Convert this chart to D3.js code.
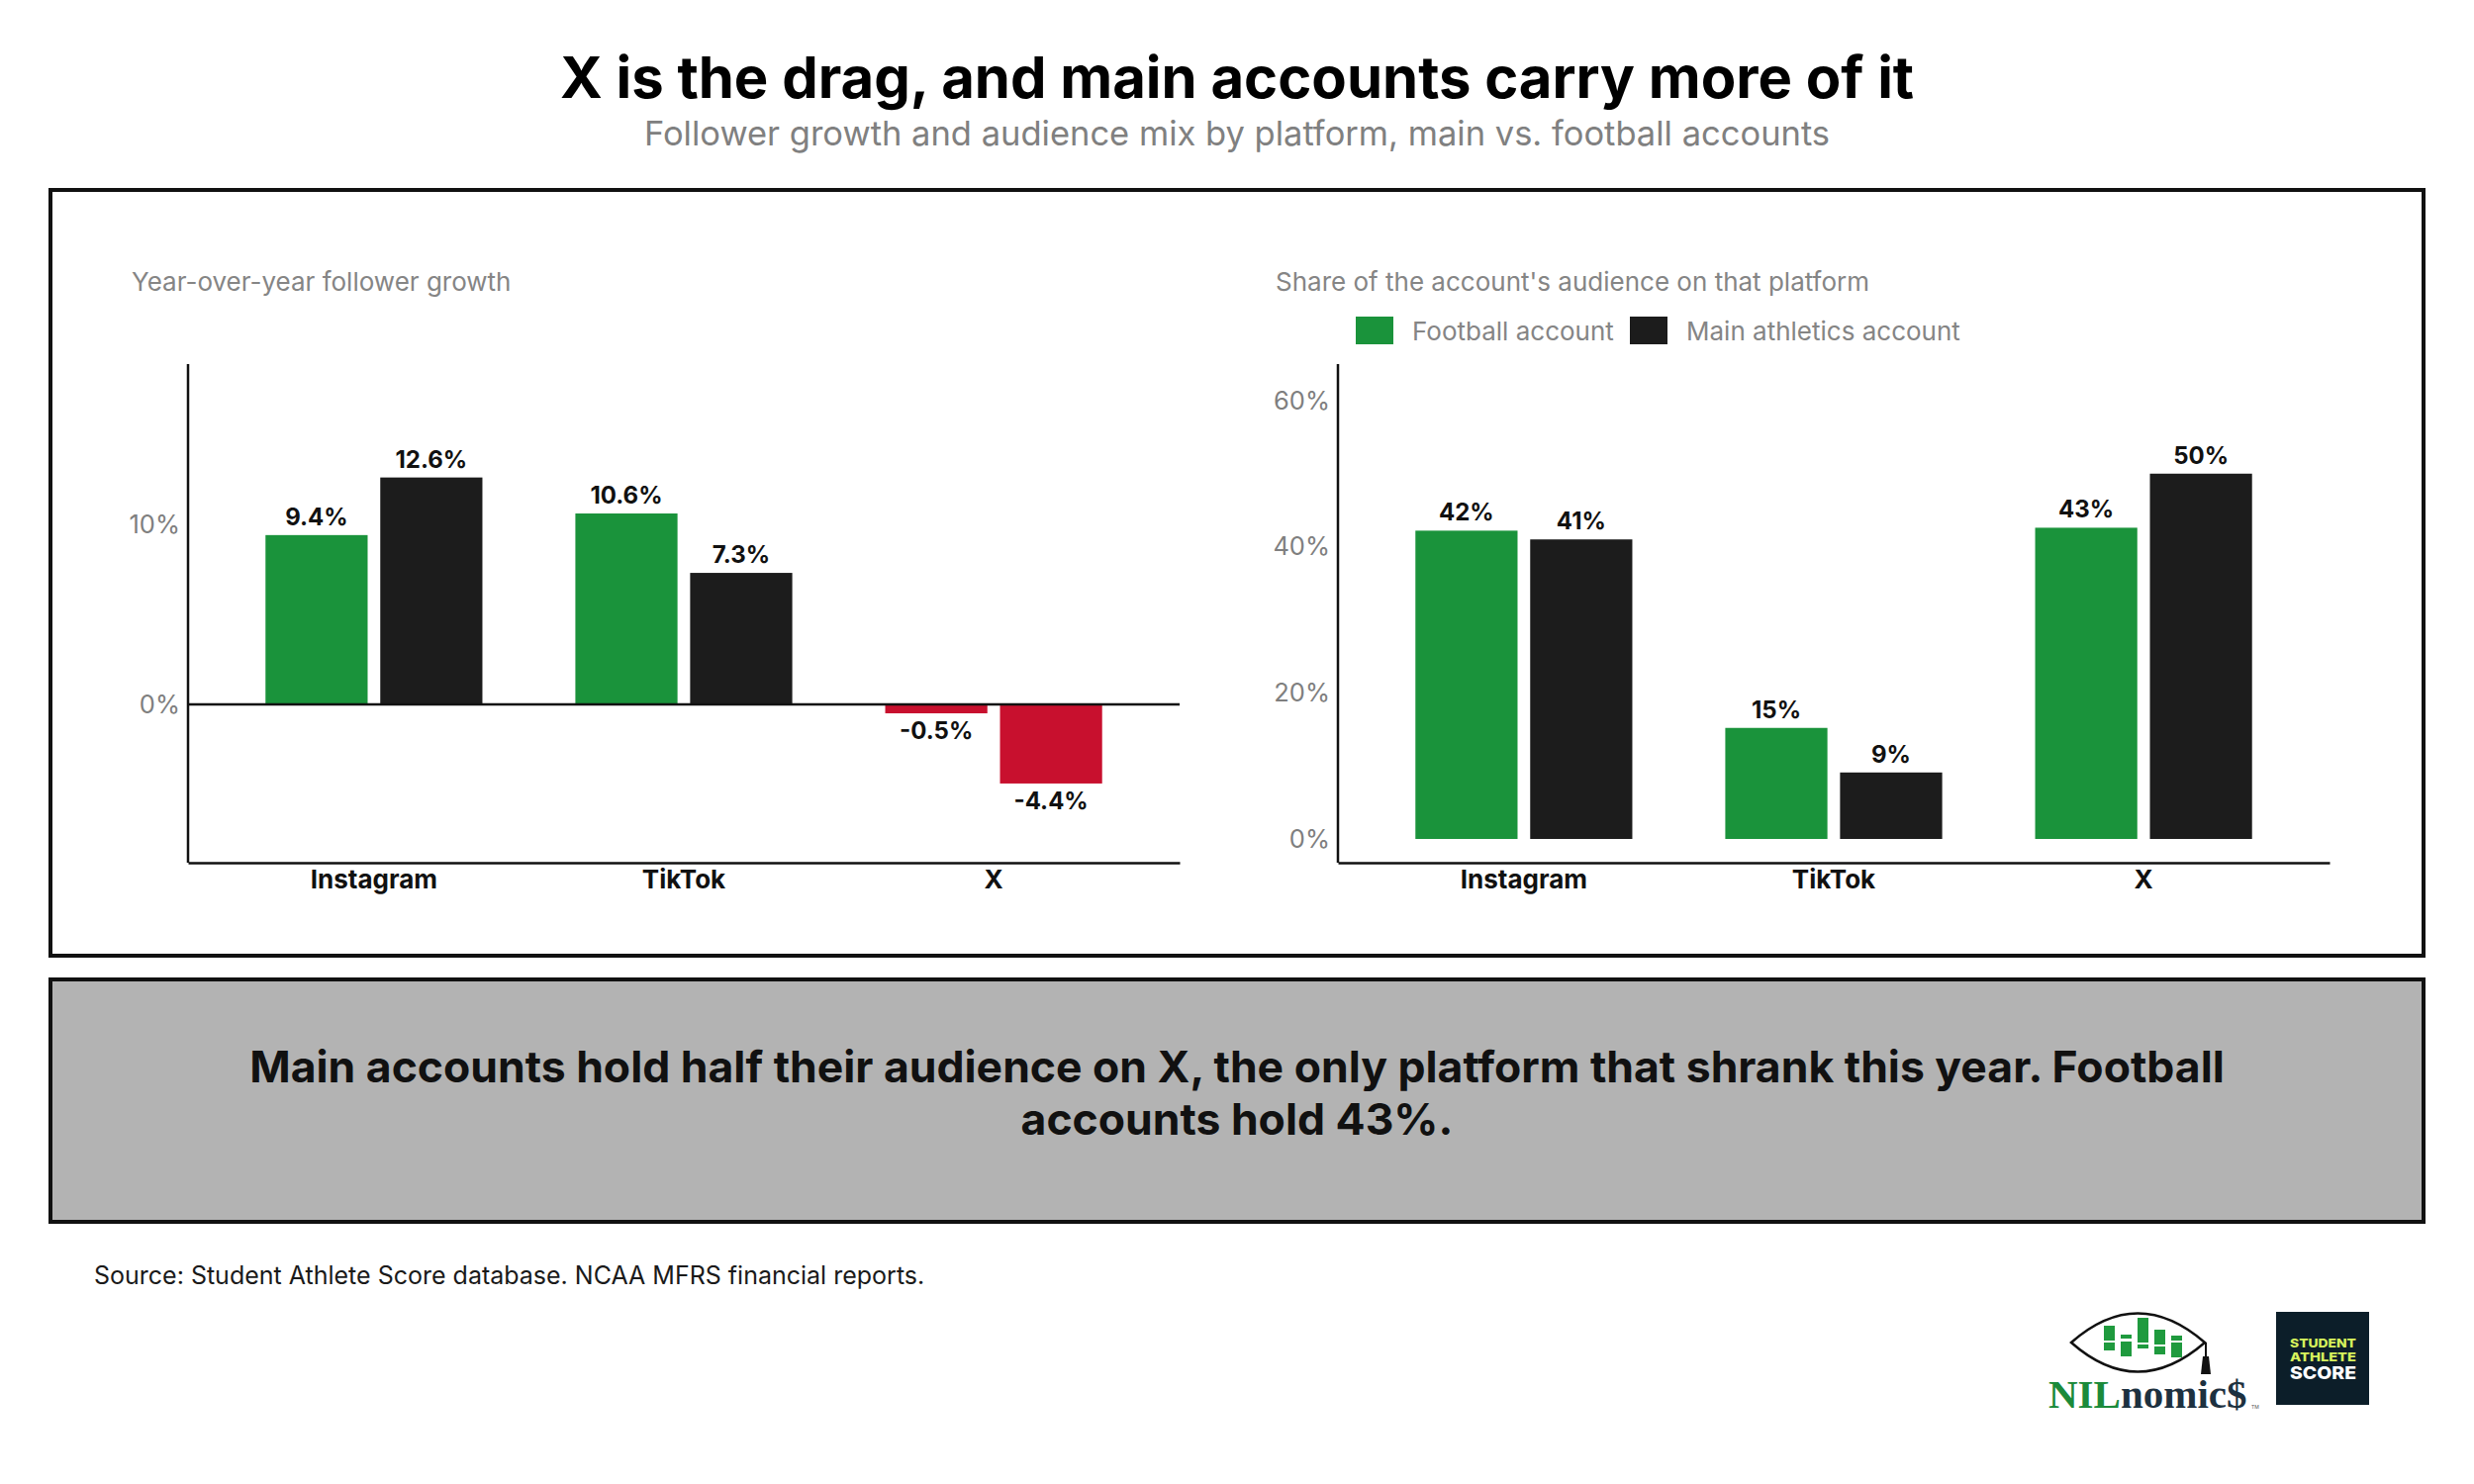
<!DOCTYPE html>
<html>
<head>
<meta charset="utf-8">
<script src="https://cdn.jsdelivr.net/npm/d3@7"></script>
<style>
	body { margin: 0; background: #fff; }
	text { font-family: Inter, "Noto Sans", sans-serif; }
</style>
</head>
<body>
<svg id="chart" width="2500" height="1500"></svg>
<script>
// ****** Data
var platforms = ['Instagram', 'TikTok', 'X'];
var seriesNames = ['Football account', 'Main athletics account'];
var growthFootball = [9.4, 10.6, -0.5];   // YoY follower growth, %
var growthMain = [12.6, 7.3, -4.4];
var shareFootball = [42.2, 15.2, 42.6];    // share of audience on platform, %
var shareMain = [41.0, 9.1, 50.0];
var growthTicks = [0, 10];
var shareTicks = [0, 20, 40, 60];

var titleText = 'X is the drag, and main accounts carry more of it';
var subtitleText = 'Follower growth and audience mix by platform, main vs. football accounts';
var calloutLines = ['Main accounts hold half their audience on X, the only platform that shrank this year. Football',
	'accounts hold 43%.'];
var sourceText = 'Source: Student Athlete Score database. NCAA MFRS financial reports.';

// ****** Settings
var col = {
	football: '#1a933b',
	main: '#1c1c1c',
	negative: '#c8102e',
	grey: '#858585',
	ink: '#111'
};
var plotTop = 368, plotBottom = 872, plotWidth = 1002;
// plain hyphen for negatives, like the original
var locale = d3.formatLocale({decimal: '.', thousands: ',', grouping: [3], currency: ['', ''], minus: '-'});

var svg = d3.select('#chart');
svg.append('rect').attr('width', 2500).attr('height', 1500).attr('fill', '#fff');

// ****** Header
svg.append('text').attr('x', 1250).attr('y', 99)
	.attr('text-anchor', 'middle').attr('font-size', 58).attr('font-weight', 700)
	.attr('fill', '#000').text(titleText);
svg.append('text').attr('x', 1250).attr('y', 147)
	.attr('text-anchor', 'middle').attr('font-size', 34.5)
	.attr('fill', '#808080').text(subtitleText);

// ****** Panel boxes
svg.append('rect').attr('x', 51).attr('y', 192).attr('width', 2398).attr('height', 774)
	.attr('fill', 'none').attr('stroke', col.ink).attr('stroke-width', 4);
svg.append('rect').attr('x', 51).attr('y', 990).attr('width', 2398).attr('height', 245)
	.attr('fill', '#b3b3b3').attr('stroke', col.ink).attr('stroke-width', 4);

svg.append('text').attr('x', 1250).attr('y', 1094)
	.attr('text-anchor', 'middle').attr('font-size', 44.5).attr('font-weight', 700)
	.attr('fill', col.ink)
	.selectAll('tspan').data(calloutLines).join('tspan')
	.attr('x', 1250).attr('dy', function(d, i) { return i ? 53 : 0; })
	.text(function(d) { return d; });

svg.append('text').attr('x', 95).attr('y', 1298)
	.attr('font-size', 25).attr('fill', '#1a1a1a').text(sourceText);

// ****** Grouped bar panel
function drawPanel(o) {
	var g = svg.append('g');
	var x = d3.scaleBand().domain(platforms).range([o.x0, o.x0 + plotWidth])
		.paddingInner(0.3).paddingOuter(0.25);
	var xs = d3.scaleBand().domain([0, 1]).range([0, x.bandwidth()]).paddingInner(0.11);
	var y = o.y;

	var rows = [];
	platforms.forEach(function(p, i) {
		rows.push({p: p, s: 0, v: o.a[i]});
		rows.push({p: p, s: 1, v: o.b[i]});
	});

	g.append('text').attr('x', o.titleX).attr('y', 294)
		.attr('font-size', 26).attr('fill', col.grey).text(o.title);

	// y tick labels, no tick marks
	var yAxis = g.append('g').attr('transform', 'translate(' + o.x0 + ',0)')
		.call(d3.axisLeft(y).tickValues(o.ticks).tickSize(0).tickPadding(8)
			.tickFormat(function(d) { return d + '%'; }));
	yAxis.select('.domain').remove();
	yAxis.selectAll('text').attr('font-size', 25.5).attr('fill', '#7f7f7f')
		.style('font-family', 'Inter');

	g.selectAll('rect.bar').data(rows).join('rect').attr('class', 'bar')
		.attr('x', function(d) { return x(d.p) + xs(d.s); })
		.attr('width', xs.bandwidth())
		.attr('y', function(d) { return y(Math.max(0, d.v)); })
		.attr('height', function(d) { return Math.abs(y(d.v) - y(0)); })
		.attr('fill', function(d) {
			if (d.v < 0) return col.negative;
			return d.s ? col.main : col.football;
		});

	g.selectAll('text.val').data(rows).join('text').attr('class', 'val')
		.attr('x', function(d) { return x(d.p) + xs(d.s) + xs.bandwidth() / 2; })
		.attr('y', function(d) { return d.v < 0 ? y(d.v) + 26 : y(d.v) - 10; })
		.attr('text-anchor', 'middle').attr('font-size', 24).attr('font-weight', 700)
		.attr('fill', col.ink).text(function(d) { return o.fmt(d.v); });

	if (o.zeroLine) {
		g.append('line').attr('x1', o.x0).attr('x2', o.x0 + plotWidth)
			.attr('y1', y(0)).attr('y2', y(0))
			.attr('stroke', col.ink).attr('stroke-width', 2.5);
	}

	// axis lines
	g.append('line').attr('x1', o.x0).attr('x2', o.x0)
		.attr('y1', plotTop).attr('y2', plotBottom)
		.attr('stroke', col.ink).attr('stroke-width', 2.5);
	var xAxis = g.append('g').attr('transform', 'translate(0,' + plotBottom + ')')
		.call(d3.axisBottom(x).tickSize(0).tickSizeOuter(0).tickPadding(8));
	xAxis.select('.domain').attr('stroke', col.ink).attr('stroke-width', 2.5);
	xAxis.selectAll('text').attr('font-size', 26).attr('font-weight', 700)
		.attr('fill', col.ink).style('font-family', 'Inter');
	return g;
}

var fmtGrowth = function(v) { return locale.format('.1f')(v) + '%'; };
var fmtShare = function(v) { return locale.format('.0f')(v) + '%'; };

drawPanel({
	x0: 190, titleX: 133, title: 'Year-over-year follower growth',
	a: growthFootball, b: growthMain, ticks: growthTicks, fmt: fmtGrowth, zeroLine: true,
	y: d3.scaleLinear().domain([-8.8, 18.9]).range([plotBottom, plotTop])
});

var right = drawPanel({
	x0: 1352, titleX: 1289, title: "Share of the account's audience on that platform",
	a: shareFootball, b: shareMain, ticks: shareTicks, fmt: fmtShare, zeroLine: false,
	y: d3.scaleLinear().domain([0, 65]).range([848, plotTop])
});

// legend
var legX = [1370, 1647];
var leg = right.selectAll('g.leg').data(seriesNames).join('g').attr('class', 'leg')
	.attr('transform', function(d, i) { return 'translate(' + legX[i] + ',320)'; });
leg.append('rect').attr('width', 38).attr('height', 28)
	.attr('fill', function(d, i) { return i ? col.main : col.football; });
leg.append('text').attr('x', 57).attr('y', 24).attr('font-size', 26)
	.attr('fill', col.grey).text(function(d) { return d; });

// ****** Logos (bottom right)
var logo = svg.append('g');
logo.append('path')
	.attr('d', 'M2093,1357 Q2160,1298 2228,1357 Q2160,1416 2093,1357 Z')
	.attr('fill', 'none').attr('stroke', col.ink).attr('stroke-width', 2.5);
logo.append('line').attr('x1', 2229).attr('x2', 2229).attr('y1', 1357).attr('y2', 1372)
	.attr('stroke', col.ink).attr('stroke-width', 2);
logo.append('path').attr('d', 'M2226,1371 L2232,1371 L2234,1389 L2224,1389 Z').attr('fill', col.ink);
var logoCols = [[2126, 1340, 15, 1357, 8], [2143, 1349, 4, 1356, 15], [2160, 1332, 25, 1359, 4],
	[2177, 1344, 15, 1361, 8], [2194, 1350, 5, 1357, 15]];
logoCols.forEach(function(c) {
	logo.append('rect').attr('x', c[0]).attr('y', c[1]).attr('width', 11).attr('height', c[2]).attr('fill', '#1f9a3e');
	logo.append('rect').attr('x', c[0]).attr('y', c[3]).attr('width', 11).attr('height', c[4]).attr('fill', '#1f9a3e');
});
var nil = logo.append('text').attr('x', 2070).attr('y', 1423)
	.attr('font-size', 41).attr('font-weight', 700)
	.style('font-family', '"Liberation Serif", serif');
nil.append('tspan').attr('fill', '#1b8a3a').text('NIL');
nil.append('tspan').attr('fill', '#1d3140').text('nomic$');
logo.append('text').attr('x', 2275).attr('y', 1424).attr('font-size', 5).attr('fill', '#555').text('TM');

logo.append('rect').attr('x', 2300).attr('y', 1326).attr('width', 94).attr('height', 94).attr('fill', '#0c1e29');
var sas = [['STUDENT', 1362, 12, '#d6f25c'], ['ATHLETE', 1376, 12, '#d6f25c'], ['SCORE', 1394, 18, '#ffffff']];
sas.forEach(function(s) {
	logo.append('text').attr('x', 2314).attr('y', s[1])
		.attr('font-size', s[2]).attr('font-weight', 800).attr('fill', s[3])
		.attr('textLength', 67).attr('lengthAdjust', 'spacingAndGlyphs')
		.text(s[0]);
});
</script>
</body>
</html>
